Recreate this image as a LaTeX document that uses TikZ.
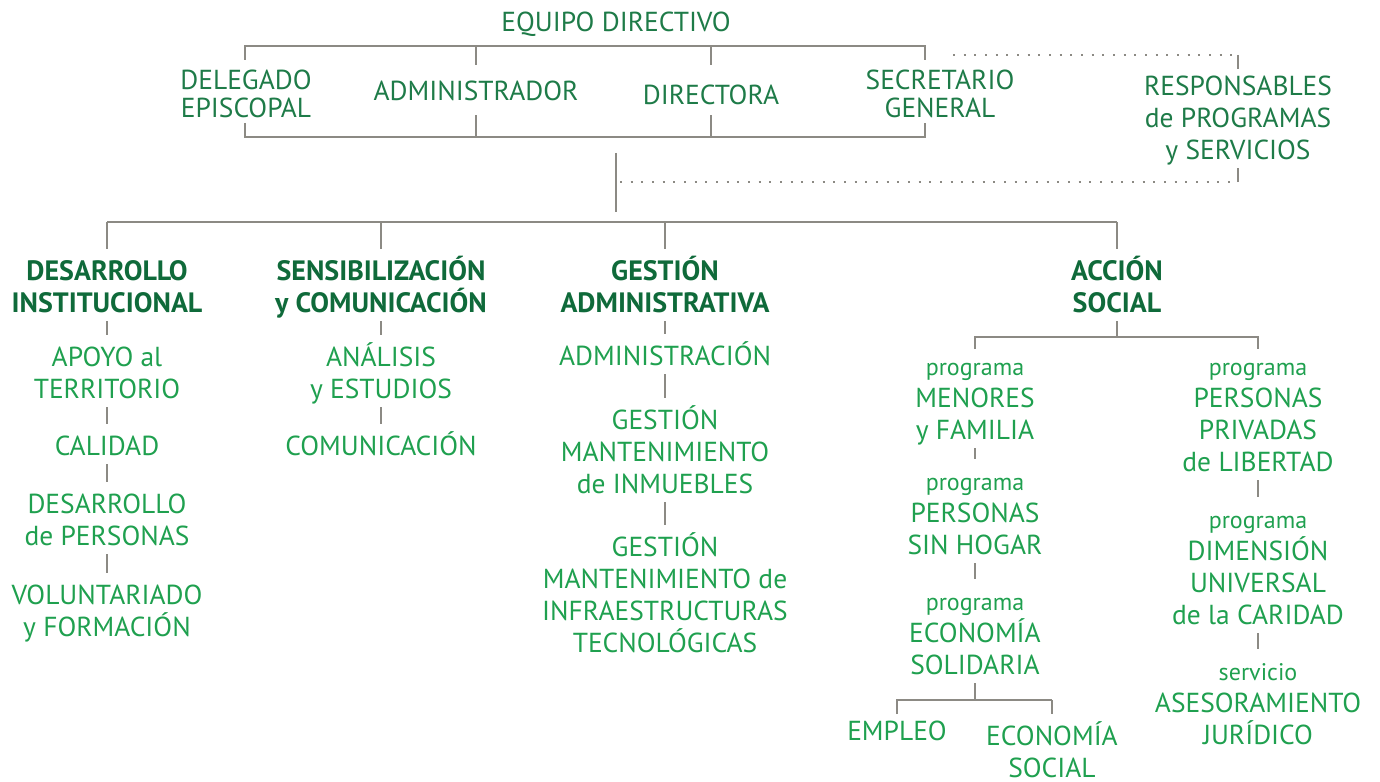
\documentclass[tikz,border=0pt]{standalone}
\usepackage{fontspec}
\setmainfont{PT Sans}
\usepackage{xcolor}
\definecolor{dkgreen}{HTML}{0F6A3A}
\definecolor{midgreen}{HTML}{1E7B48}
\definecolor{ltgreen}{HTML}{1FA04F}
\definecolor{linegray}{HTML}{8C8A84}
\newcommand\ts{\rule{0pt}{20pt}}
\newcommand\bs{\rule[-6pt]{0pt}{0pt}}
\newcommand\prog[1]{{\fontsize{18}{24}\selectfont #1}}

\begin{document}
\begin{tikzpicture}[x=0.75pt, y=-0.75pt,
  unit/.style={align=center, inner sep=0pt, anchor=north, text=ltgreen,
    font=\fontsize{20.6}{24}\selectfont},
  area/.style={unit, text=dkgreen, font=\bfseries\fontsize{21}{24}\selectfont},
  board/.style={unit, text=midgreen, font=\fontsize{20.6}{21}\selectfont},
  link/.style={draw=linegray, line width=2.1pt},
  stem/.style={link, shorten >=4pt},
  dotlink/.style={draw=linegray, line width=1.6pt, dash pattern=on 1.6pt off 6.4pt}]
\useasboundingbox (0,0) rectangle (1380,781);

% equipo directivo
\node[board] (equipo) at (616,5) {\ts EQUIPO DIRECTIVO\bs};
\node[board] (delegado) at (246,63) {\ts DELEGADO\\EPISCOPAL\bs};
\node[board] (administrador) at (476,74) {\ts ADMINISTRADOR\bs};
\node[board] (directora) at (711,78) {\ts DIRECTORA\bs};
\node[board] (secretario) at (940,63) {\ts SECRETARIO\\GENERAL\bs};
\node[board, font=\fontsize{20.6}{24}\selectfont] (responsables) at (1238,69)
  {\ts RESPONSABLES\\de PROGRAMAS\\y SERVICIOS\bs};

\coordinate (tl) at (245,46);
\coordinate (tr) at (925,46);
\coordinate (bl) at (245,137);
\coordinate (br) at (925,137);
\draw[link] ([yshift=-10.5pt]tl) -- (tl) -- (tr) -- ([yshift=-10.5pt]tr);
\draw[link] ([yshift=10.5pt]bl) -- (bl) -- (br) -- ([yshift=10.5pt]br);
\draw[link] (tl -| administrador) -- ++(0,19);
\draw[link] (tl -| directora) -- ++(0,19);
\draw[link] (bl -| administrador) -- ++(0,-22);
\draw[link] (bl -| directora) -- ++(0,-22);

% responsables (linea de puntos)
\coordinate (d1) at (953,55);
\coordinate (d3) at (620,182);
\draw[dotlink] (d1) -- (d1 -| responsables);
\draw[link] (d1 -| responsables) -- (responsables.north);
\draw[dotlink] (d3) -- (d3 -| responsables);
\draw[link] (d3 -| responsables) -- (responsables.south);

% tronco
\coordinate (trunk1) at (616,153);
\coordinate (trunk2) at (616,212);
\draw[link] (trunk1) -- (trunk2);

% areas
\node[area] (desinst) at (107,254) {\ts DESARROLLO\\INSTITUCIONAL\bs};
\node[area] (sensib) at (381,254) {\ts SENSIBILIZACIÓN\\y COMUNICACIÓN\bs};
\node[area] (gestadm) at (665,254) {\ts GESTIÓN\\ADMINISTRATIVA\bs};
\node[area] (accion) at (1117,254) {\ts ACCIÓN\\SOCIAL\bs};

\coordinate (h2) at (616,222);
\draw[link] (desinst.north |- h2) -- (accion.north |- h2);
\foreach \n in {desinst,sensib,gestadm,accion}
  \draw[stem] (\n.north |- h2) -- (\n.north);

% desarrollo institucional
\node[unit] (apoyo) at (107,340) {\ts APOYO al\\TERRITORIO\bs};
\node[unit] (calidad) at (107,429) {\ts CALIDAD\bs};
\node[unit] (despers) at (107,487) {\ts DESARROLLO\\de PERSONAS\bs};
\node[unit] (volunt) at (107,578) {\ts VOLUNTARIADO\\y FORMACIÓN\bs};

% sensibilizacion
\node[unit] (analisis) at (381,340) {\ts ANÁLISIS\\y ESTUDIOS\bs};
\node[unit] (comunic) at (381,429) {\ts COMUNICACIÓN\bs};

% gestion administrativa
\node[unit] (administracion) at (665,339) {\ts ADMINISTRACIÓN\bs};
\node[unit] (inmuebles) at (665,403) {\ts GESTIÓN\\MANTENIMIENTO\\de INMUEBLES\bs};
\node[unit] (infra) at (665,530)
  {\ts GESTIÓN\\MANTENIMIENTO de\\INFRAESTRUCTURAS\\TECNOLÓGICAS\bs};

% accion social
\node[unit] (menores) at (975,349) {\ts\prog{programa}\\MENORES\\y FAMILIA\bs};
\node[unit] (sinhogar) at (975,464) {\ts\prog{programa}\\PERSONAS\\SIN HOGAR\bs};
\node[unit] (economia) at (975,584) {\ts\prog{programa}\\ECONOMÍA\\SOLIDARIA\bs};
\node[unit] (empleo) at (897,714) {\ts EMPLEO\bs};
\node[unit] (ecosocial) at (1052,719) {\ts ECONOMÍA\\SOCIAL};
\node[unit] (libertad) at (1258,349)
  {\ts\prog{programa}\\PERSONAS\\PRIVADAS\\de LIBERTAD\bs};
\node[unit] (caridad) at (1258,502)
  {\ts\prog{programa}\\DIMENSIÓN\\UNIVERSAL\\de la CARIDAD\bs};
\node[unit] (juridico) at (1258,654) {\ts\prog{servicio}\\ASESORAMIENTO\\JURÍDICO\bs};

\coordinate (h4) at (1117,337);
\draw[link] (accion.south) -- (accion.south |- h4);
\draw[link] (menores.north) -- (menores.north |- h4) -- (libertad.north |- h4)
  -- (libertad.north);

\coordinate (h5) at (975,700);
\draw[link] (economia.south) -- (economia.south |- h5);
\draw[link] (empleo.north) -- (empleo.north |- h5) -- (ecosocial.north |- h5);
\draw[stem] (ecosocial.north |- h5) -- (ecosocial.north);

% trazos verticales
\foreach \a/\b in {desinst/apoyo, apoyo/calidad, calidad/despers, despers/volunt,
    sensib/analisis, analisis/comunic,
    gestadm/administracion, administracion/inmuebles, inmuebles/infra,
    menores/sinhogar, sinhogar/economia, libertad/caridad, caridad/juridico}
  \draw[stem] (\a.south) -- (\b.north);
\end{tikzpicture}
\end{document}
